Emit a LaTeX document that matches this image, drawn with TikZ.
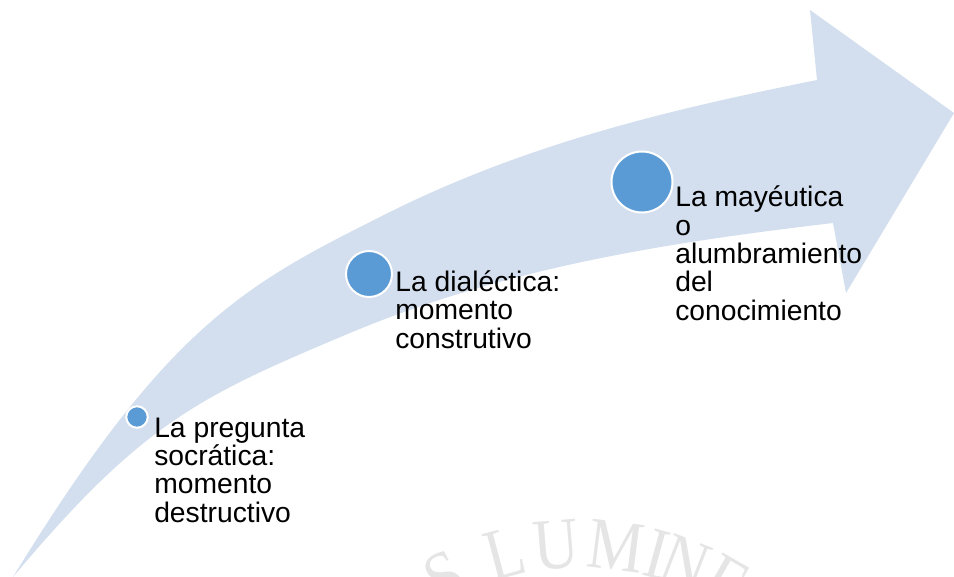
\documentclass[tikz,border=0pt]{standalone}
\usepackage{fontspec}
\setmainfont{Liberation Sans}
\newfontfamily\sealfont{Liberation Serif}
\definecolor{arrowfill}{RGB}{211,223,238}
\definecolor{dotblue}{RGB}{91,155,213}
\definecolor{sealgray}{RGB}{229,229,229}
\def\dotpx{0.025cm}

\begin{document}
\begin{tikzpicture}[x=0.025cm, y=-0.025cm]
\useasboundingbox (0,0) rectangle (954,577);
\clip (0,0) rectangle (954,577);

% faint seal letters at the bottom
\begin{scope}[shift={(580,837)}, every node/.style={inner sep=0pt, text=sealgray, font=\sealfont\fontsize{52}{52}\selectfont}]
    \def\sealr{293}
    \foreach \ch/\ang [count=\i] in {S/27.5, L/14.9, U/4.7, M/-7.1, I/-15.3, N/-21.1, E/-29.8}
        \node[rotate=\ang, xscale=0.86] (seal\i) at (-90-\ang:\sealr) {\ch};
\end{scope}

% the curved arrow
\fill[arrowfill] (13,577)
    .. controls (173,316) and (250,282) .. (400,207)
    .. controls (539,140) and (678,108) .. (817,80)
    -- (810,10) -- (954,113) -- (846,293) -- (833,223)
    .. controls (673,242) and (510,266) .. (350,333)
    .. controls (200,396) and (143,422) .. (13,577) -- cycle;

% dots
\begin{scope}[every node/.style={circle, fill=dotblue, draw=white, line width=2*\dotpx, inner sep=0pt}]
    \node[minimum size=21.5*\dotpx] (c1) at (137,417) {};
    \node[minimum size=46*\dotpx] (c2) at (369,274) {};
    \node[minimum size=61*\dotpx] (c3) at (642,182) {};
\end{scope}

% labels (base = baseline of the last line)
\begin{scope}[every node/.style={align=left, anchor=base west, inner sep=0pt, font=\fontsize{20.1}{20.1}\selectfont}]
    \node (t1) at (154,522) {La pregunta\\socrática:\\momento\\destructivo};
    \node (t2) at (395,348) {La dialéctica:\\momento\\construtivo};
    \node (t3) at (675,320) {La mayéutica\\o\\alumbramiento\\del\\conocimiento};
\end{scope}
\end{tikzpicture}
\end{document}
